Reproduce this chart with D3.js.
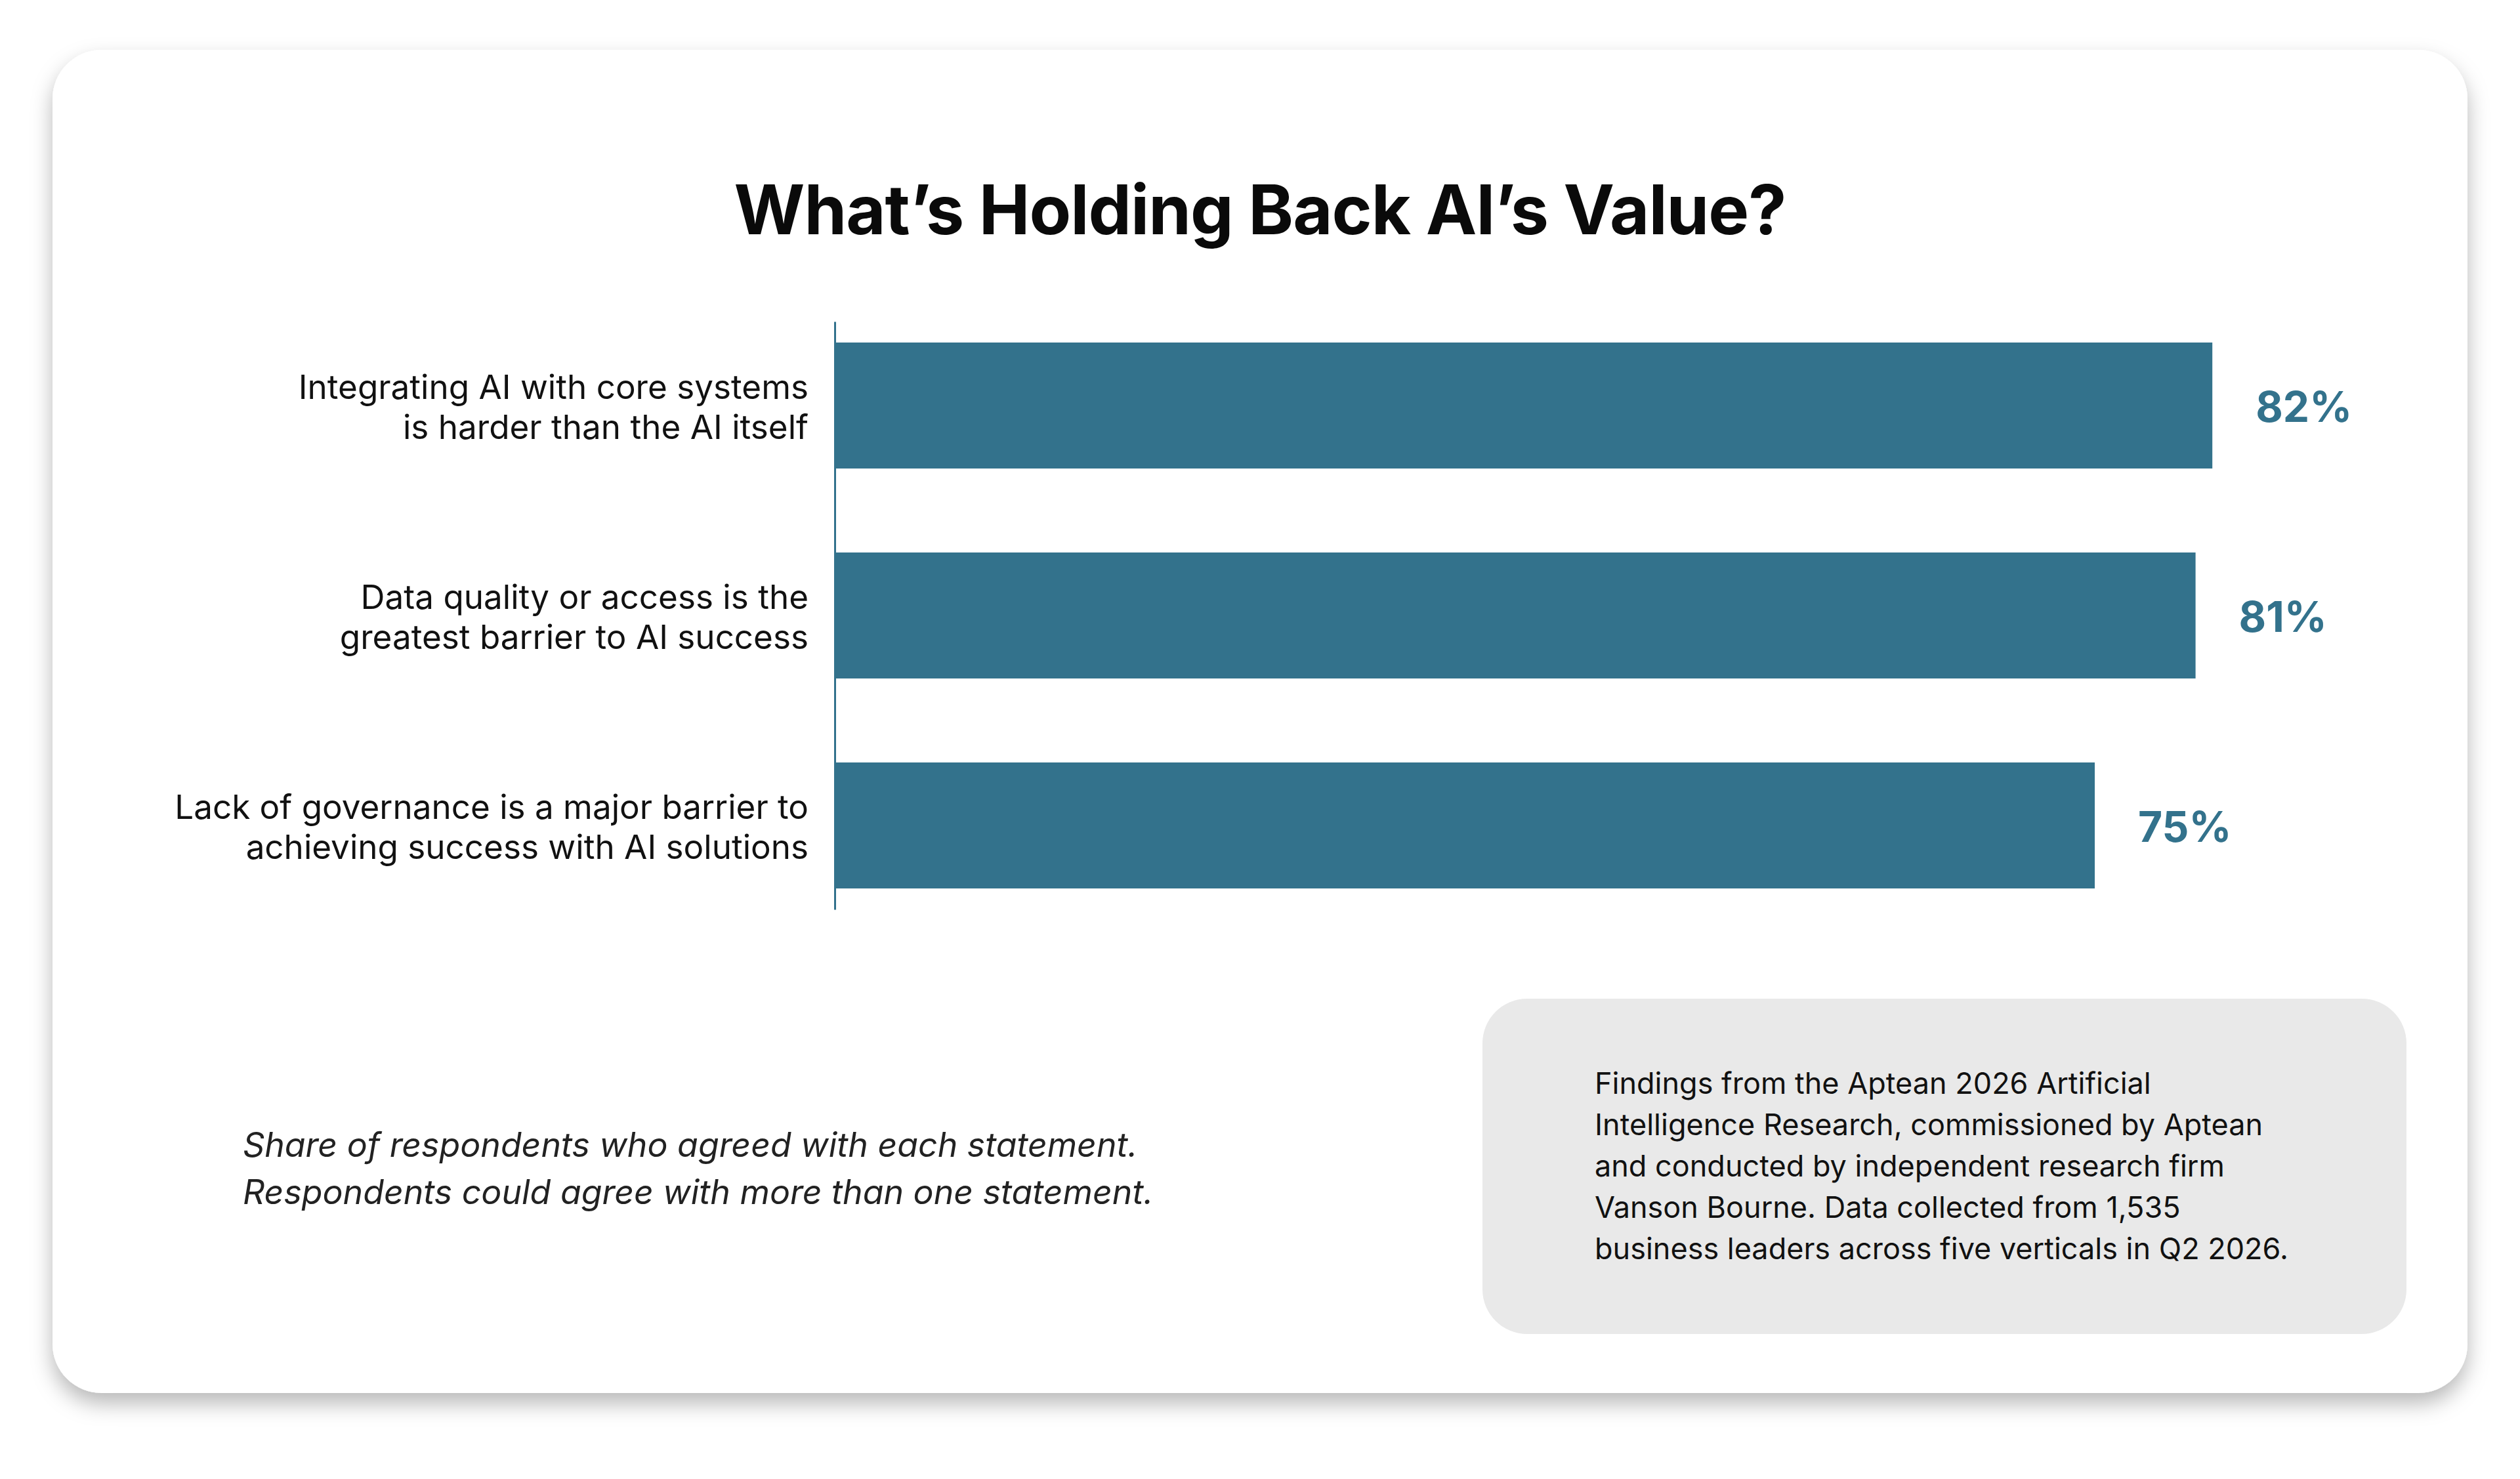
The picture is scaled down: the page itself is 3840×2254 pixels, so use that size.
<!DOCTYPE html>
<html>
<head>
<meta charset="utf-8">
<script src="https://cdn.jsdelivr.net/npm/d3@7"></script>
<style>
  html, body { margin: 0; padding: 0; background: #ffffff; }
  svg { display: block; }
</style>
</head>
<body>
<svg id="chart" width="3840" height="2254"></svg>
<script>
// ---- data ----
const title = "What\u2019s Holding Back AI\u2019s Value?";
const categories = [
  ["Integrating AI with core systems", "is harder than the AI itself"],
  ["Data quality or access is the", "greatest barrier to AI success"],
  ["Lack of governance is a major barrier to", "achieving success with AI solutions"]
];
const values = [82, 81, 75];
const valueLabels = ["82%", "81%", "75%"];
const noteLines = [
  "Share of respondents who agreed with each statement.",
  "Respondents could agree with more than one statement."
];
const sourceLines = [
  "Findings from the Aptean 2026 Artificial",
  "Intelligence Research, commissioned by Aptean",
  "and conducted by independent research firm",
  "Vanson Bourne. Data collected from 1,535",
  "business leaders across five verticals in Q2 2026."
];

// ---- styles ----
const teal = "#33728c";
const font = "Inter, 'Noto Sans', sans-serif";

const svg = d3.select("#chart");
const defs = svg.append("defs");
const f = defs.append("filter").attr("id", "shadow")
  .attr("x", "-5%").attr("y", "-5%").attr("width", "110%").attr("height", "115%");
f.append("feDropShadow").attr("dx", 0).attr("dy", 16).attr("stdDeviation", 16)
  .attr("flood-color", "#000").attr("flood-opacity", 0.28);

// card
svg.append("rect").attr("x", 80).attr("y", 76).attr("width", 3680).attr("height", 2047)
  .attr("rx", 75).attr("ry", 75).attr("fill", "#ffffff").attr("filter", "url(#shadow)");

// title
svg.append("text").attr("x", 1920).attr("y", 357).attr("text-anchor", "middle")
  .attr("font-family", font).attr("font-weight", 700).attr("font-size", 104)
  .attr("letter-spacing", -1).attr("fill", "#0a0a0a").text(title);

// scales
const idx = categories.map((d, i) => i);
const y = d3.scaleBand().domain(idx).range([490, 1386]).paddingInner(0.4).paddingOuter(0.1);
const x = d3.scaleLinear().domain([0, 100]).range([1272, 3832]);

// bars
svg.append("g").selectAll("rect").data(values).join("rect")
  .attr("x", x(0)).attr("y", (d, i) => y(i))
  .attr("width", d => x(d) - x(0)).attr("height", y.bandwidth())
  .attr("fill", teal);

// axis
const axis = svg.append("g").attr("transform", `translate(${x(0)},0)`)
  .call(d3.axisLeft(y).tickSize(0).tickSizeOuter(0).tickFormat(""));
axis.select(".domain").attr("stroke", teal).attr("stroke-width", 3);

// category labels
const lab = svg.append("g").selectAll("text").data(categories).join("text")
  .attr("text-anchor", "end").attr("font-family", font).attr("font-size", 51.2)
  .attr("fill", "#111");
lab.each(function(lines, i) {
  const cy = y(i) + y.bandwidth() / 2;
  const t = d3.select(this);
  lines.forEach((ln, j) => {
    t.append("tspan").attr("x", 1232).attr("y", cy - 10 + j * 61).text(ln);
  });
});

// value labels
svg.append("g").selectAll("text").data(values).join("text")
  .attr("x", d => x(d) + 66).attr("y", (d, i) => y(i) + y.bandwidth() / 2 + 25)
  .attr("font-family", font).attr("font-weight", 700).attr("font-size", 64)
  .attr("fill", teal).text((d, i) => valueLabels[i]);

// note
svg.append("g").selectAll("text").data(noteLines).join("text")
  .attr("x", 370).attr("y", (d, i) => 1763 + i * 72)
  .attr("font-family", font).attr("font-style", "italic").attr("font-size", 51.8)
  .attr("fill", "#222").text(d => d);

// source box
svg.append("rect").attr("x", 2259).attr("y", 1522).attr("width", 1408).attr("height", 511)
  .attr("rx", 68).attr("ry", 68).attr("fill", "#e9e9e9");
svg.append("g").selectAll("text").data(sourceLines).join("text")
  .attr("x", 2430).attr("y", (d, i) => 1667 + i * 63)
  .attr("font-family", font).attr("font-size", 45)
  .attr("fill", "#111").text(d => d);
</script>
</body>
</html>
